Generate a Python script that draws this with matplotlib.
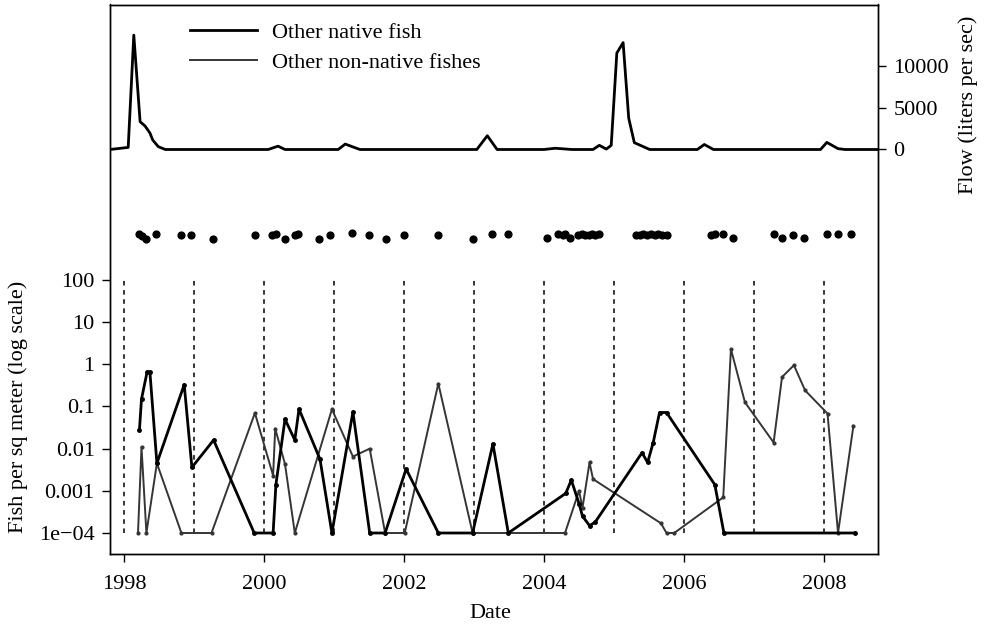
import matplotlib
matplotlib.use("Agg")
import matplotlib.pyplot as plt
from matplotlib.lines import Line2D

plt.rcParams["font.family"] = ["Liberation Serif", "DejaVu Serif"]
plt.rcParams["font.size"] = 16

# river flow (liters per sec)
flow_dates = [1997.80, 1998.06, 1998.14, 1998.23, 1998.30, 1998.37, 1998.41, 1998.49, 1998.59,
              2000.06, 2000.20, 2000.30, 2001.06, 2001.16, 2001.37, 2003.04, 2003.19, 2003.33,
              2004.00, 2004.16, 2004.40, 2004.70, 2004.79, 2004.89, 2004.96, 2005.04, 2005.13,
              2005.21, 2005.29, 2005.51, 2006.19, 2006.29, 2006.42, 2007.95, 2008.04, 2008.20,
              2008.30, 2008.77]
flow_vals = [0, 250, 13700, 3330, 2820, 1980, 1140, 340, 0,
             0, 400, 0, 0, 650, 0, 0, 1650, 0,
             0, 150, 0, 0, 500, 50, 500, 11550, 12800,
             3750, 820, 0, 0, 600, 0, 0, 850, 100,
             0, 0]

# sampling dates (dot row)
sample_dates = [1998.22, 1998.25, 1998.32, 1998.46, 1998.82, 1998.95, 1999.27, 1999.87,
                2000.11, 2000.17, 2000.30, 2000.44, 2000.49, 2000.79, 2000.94, 2001.25,
                2001.50, 2001.74, 2002.00, 2002.49, 2002.98, 2003.25, 2003.48, 2004.04,
                2004.20, 2004.27, 2004.30, 2004.37, 2004.49, 2004.54, 2004.59, 2004.64,
                2004.68, 2004.73, 2004.78, 2005.32, 2005.37, 2005.42, 2005.47, 2005.53,
                2005.58, 2005.63, 2005.69, 2005.75, 2006.39, 2006.44, 2006.55, 2006.70,
                2007.28, 2007.40, 2007.56, 2007.71, 2008.04, 2008.20, 2008.39]
sample_y = [1250, 1100, 940, 1250, 1170, 1170, 940, 1170,
            1170, 1250, 940, 1170, 1250, 940, 1170, 1300,
            1170, 940, 1170, 1170, 940, 1250, 1250, 1000,
            1250, 1170, 1200, 1000, 1170, 1200, 1170, 1170,
            1200, 1170, 1200, 1170, 1170, 1200, 1170, 1200,
            1170, 1200, 1170, 1170, 1170, 1200, 1250, 1000,
            1250, 1000, 1170, 1000, 1250, 1250, 1250]

# fish per sq meter
native_dates = [1998.22, 1998.25, 1998.33, 1998.37, 1998.47, 1998.86, 1998.97, 1999.28,
                1999.86, 2000.13, 2000.17, 2000.30, 2000.44, 2000.50, 2000.80, 2000.97,
                2001.27, 2001.51, 2001.73, 2002.03, 2002.49, 2002.98, 2003.27, 2003.49,
                2004.31, 2004.39, 2004.50, 2004.55, 2004.65, 2004.73, 2005.40, 2005.48,
                2005.56, 2005.65, 2005.75, 2006.44, 2006.57, 2008.44]
native_vals = [0.027, 0.15, 0.66, 0.66, 0.0045, 0.33, 0.0036, 0.016,
               1e-4, 1e-4, 0.0014, 0.05, 0.016, 0.087, 0.0056, 1e-4,
               0.074, 1e-4, 1e-4, 0.0033, 1e-4, 1e-4, 0.013, 1e-4,
               0.00087, 0.0018, 0.0005, 0.00025, 0.00015, 0.00018, 0.008, 0.0047,
               0.014, 0.072, 0.072, 0.0014, 1e-4, 1e-4]

nonnative_dates = [1998.20, 1998.25, 1998.32, 1998.47, 1998.82, 1999.25, 1999.87, 2000.13,
                   2000.16, 2000.30, 2000.44, 2000.97, 2001.27, 2001.51, 2001.73, 2002.01,
                   2002.49, 2002.98, 2004.30, 2004.50, 2004.55, 2004.65, 2004.70, 2005.67,
                   2005.75, 2005.86, 2006.56, 2006.67, 2006.87, 2007.28, 2007.40, 2007.57,
                   2007.73, 2008.05, 2008.20, 2008.42]
nonnative_vals = [1e-4, 0.011, 1e-4, 0.0045, 1e-4, 1e-4, 0.07, 0.0023,
                  0.03, 0.0043, 1e-4, 0.086, 0.0065, 0.01, 1e-4, 1e-4,
                  0.35, 1e-4, 1e-4, 0.001, 0.0004, 0.0047, 0.0019, 0.00017,
                  1e-4, 1e-4, 0.0007, 2.3, 0.126, 0.014, 0.5, 0.95,
                  0.24, 0.068, 1e-4, 0.035]

year_lines = list(range(1998, 2009))
x_ticks = [1998, 2000, 2002, 2004, 2006, 2008]
y_ticks = [1e-4, 1e-3, 1e-2, 1e-1, 1, 10, 100]
y_tick_labels = ["1e\u221204", "0.001", "0.01", "0.1", "1", "10", "100"]
flow_ticks = [0, 5000, 10000]

NATIVE = "black"
NONNATIVE = "#353535"

fig = plt.figure(figsize=(9.85, 6.26), dpi=100)
ax = fig.add_axes([110 / 985, 1 - 554 / 626, 768 / 985, 549.5 / 626])
ax.set_yscale("log")
ax.set_xlim(1997.8, 2008.771)
ax.set_ylim(10 ** -4.498, 10 ** 8.533)

ax.vlines(year_lines, 1e-4, 100, colors="black", linestyles=(0, (3, 3)), linewidth=1.1)
ax.plot(nonnative_dates, nonnative_vals, color=NONNATIVE, linewidth=1.4,
        marker="o", markersize=2)
ax.plot(native_dates, native_vals, color=NATIVE, linewidth=2.0,
        marker="o", markersize=2.5)
ax.scatter(sample_dates, sample_y, s=24, color="black", zorder=3)

ax.set_yticks(y_ticks)
ax.set_yticklabels(y_tick_labels)
ax.minorticks_off()
ax.set_xticks(x_ticks)
ax.tick_params(direction="out", length=6, width=1, pad=5)
ax.tick_params(axis="x", pad=9)

ax2 = ax.twinx()
ax2.set_ylim(-48443, 17365)
ax2.plot(flow_dates, flow_vals, color="black", linewidth=2.0)
ax2.set_yticks(flow_ticks)
ax2.tick_params(direction="out", length=6, width=1, pad=5)

for a in (ax, ax2):
    for sp in a.spines.values():
        sp.set_linewidth(1.0)

handles = [Line2D([], [], color=NATIVE, linewidth=2.0),
           Line2D([], [], color=NONNATIVE, linewidth=1.4)]
ax.legend(handles, ["Other native fish", "Other non-native fishes"], loc="upper left",
          frameon=False, bbox_to_anchor=(190 / 985, 1 - 22 / 626),
          bbox_transform=fig.transFigure, borderpad=0, borderaxespad=0,
          handlelength=3.0, handletextpad=0.7, labelspacing=0.45)

fig.text(18 / 985, 1 - 407 / 626, "Fish per sq meter (log scale)", rotation=90,
         ha="center", va="center")
fig.text(968 / 985, 1 - 105 / 626, "Flow (liters per sec)", rotation=90,
         ha="center", va="center")
fig.text(490 / 985, 1 - 614 / 626, "Date", ha="center", va="center")

fig.savefig("out.png", dpi=100)
plt.close(fig)
